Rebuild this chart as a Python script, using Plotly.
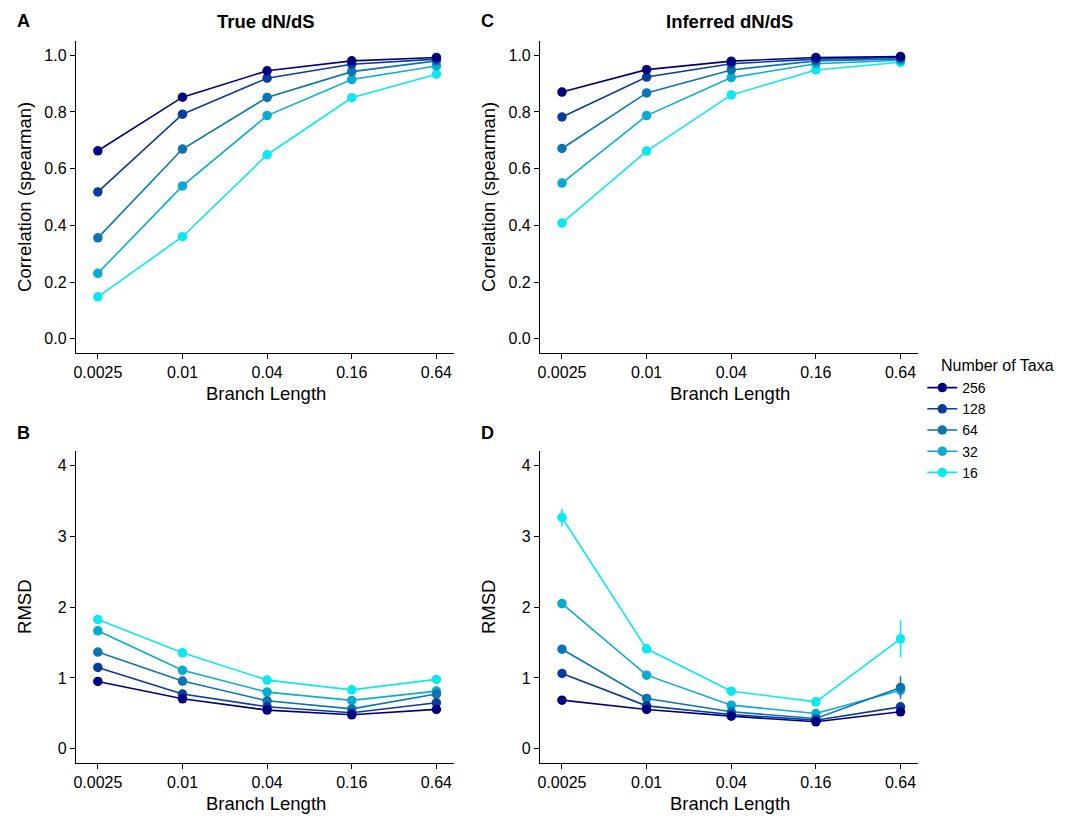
import plotly.graph_objects as go

branch = ["0.0025", "0.01", "0.04", "0.16", "0.64"]
taxa = ["256", "128", "64", "32", "16"]
colors = {"256": "#00007f", "128": "#0a3c9c", "64": "#0a74b4", "32": "#08acd0", "16": "#0ae8f0"}

# Panel A: correlation, true dN/dS
corr_true = {
    "256": [0.663, 0.852, 0.945, 0.980, 0.992],
    "128": [0.518, 0.792, 0.919, 0.968, 0.986],
    "64":  [0.356, 0.669, 0.851, 0.942, 0.980],
    "32":  [0.231, 0.539, 0.787, 0.914, 0.962],
    "16":  [0.148, 0.360, 0.649, 0.850, 0.933],
}
# Panel C: correlation, inferred dN/dS
corr_inf = {
    "256": [0.870, 0.949, 0.979, 0.992, 0.995],
    "128": [0.782, 0.923, 0.970, 0.986, 0.992],
    "64":  [0.671, 0.867, 0.948, 0.980, 0.987],
    "32":  [0.549, 0.787, 0.921, 0.970, 0.982],
    "16":  [0.408, 0.662, 0.860, 0.948, 0.975],
}
# Panel B: RMSD, true dN/dS
rmsd_true = {
    "256": [0.95, 0.705, 0.546, 0.48, 0.556],
    "128": [1.148, 0.772, 0.593, 0.508, 0.649],
    "64":  [1.364, 0.955, 0.677, 0.564, 0.772],
    "32":  [1.664, 1.107, 0.80, 0.683, 0.814],
    "16":  [1.824, 1.354, 0.969, 0.832, 0.979],
}
rmsd_true_err = {
    "256": [0.01, 0.01, 0.01, 0.01, 0.01],
    "128": [0.01, 0.01, 0.01, 0.01, 0.01],
    "64":  [0.02, 0.01, 0.01, 0.01, 0.01],
    "32":  [0.03, 0.02, 0.01, 0.01, 0.02],
    "16":  [0.03, 0.02, 0.01, 0.01, 0.02],
}
# Panel D: RMSD, inferred dN/dS
rmsd_inf = {
    "256": [0.686, 0.555, 0.461, 0.381, 0.522],
    "128": [1.062, 0.606, 0.484, 0.404, 0.592],
    "64":  [1.405, 0.710, 0.522, 0.428, 0.865],
    "32":  [2.049, 1.039, 0.616, 0.498, 0.827],
    "16":  [3.262, 1.410, 0.813, 0.663, 1.551],
}
rmsd_inf_err = {
    "256": [0.01, 0.01, 0.01, 0.01, 0.02],
    "128": [0.02, 0.01, 0.01, 0.01, 0.04],
    "64":  [0.03, 0.01, 0.01, 0.01, 0.16],
    "32":  [0.05, 0.02, 0.01, 0.01, 0.08],
    "16":  [0.12, 0.03, 0.02, 0.02, 0.26],
}

W, H = 1075, 816
FONT = "Liberation Sans, Arial, sans-serif"

def px_x(p):
    return p / W

def px_y(p):
    return 1 - p / H

fig = go.Figure()

panels = [
    ("x", "y", corr_true, None, True),
    ("x2", "y2", corr_inf, None, False),
    ("x3", "y3", rmsd_true, rmsd_true_err, False),
    ("x4", "y4", rmsd_inf, rmsd_inf_err, False),
]

for xa, ya, data, err, show in panels:
    for t in reversed(taxa):
        tr = dict(
            x=branch, y=data[t], xaxis=xa, yaxis=ya, name=t,
            mode="lines+markers",
            line=dict(color=colors[t], width=1.6),
            marker=dict(color=colors[t], size=9.5),
            showlegend=show,
        )
        if err is not None:
            tr["error_y"] = dict(type="data", array=err[t], width=0, thickness=1.6, color=colors[t])
        fig.add_trace(go.Scatter(**tr))

xdom_L = [px_x(74), px_x(453)]
xdom_R = [px_x(539), px_x(918)]
ydom_T = [px_y(353), px_y(41)]
ydom_B = [px_y(763), px_y(451)]

axis_common = dict(
    showline=True, linecolor="black", linewidth=1.1,
    ticks="outside", ticklen=5, tickwidth=1.1, tickcolor="black",
    showgrid=False, zeroline=False,
    tickfont=dict(family=FONT, size=16, color="black"),
)

def xaxis(dom, anchor):
    return dict(domain=dom, anchor=anchor, type="category",
                range=[-0.26, 4.21], **axis_common)

corr_ticks = [0, 0.2, 0.4, 0.6, 0.8, 1.0]
corr_text = ["0.0", "0.2", "0.4", "0.6", "0.8", "1.0"]
rmsd_ticks = [0, 1, 2, 3, 4]

fig.update_layout(
    width=W, height=H,
    margin=dict(l=0, r=0, t=0, b=0),
    paper_bgcolor="white", plot_bgcolor="white",
    font=dict(family=FONT, size=14, color="black"),
    xaxis=xaxis(xdom_L, "y"),
    xaxis2=xaxis(xdom_R, "y2"),
    xaxis3=xaxis(xdom_L, "y3"),
    xaxis4=xaxis(xdom_R, "y4"),
    yaxis=dict(domain=ydom_T, anchor="x", range=[-0.05, 1.05],
               tickvals=corr_ticks, ticktext=corr_text, **axis_common),
    yaxis2=dict(domain=ydom_T, anchor="x2", range=[-0.05, 1.05],
                tickvals=corr_ticks, ticktext=corr_text, **axis_common),
    yaxis3=dict(domain=ydom_B, anchor="x3", range=[-0.2, 4.2],
                tickvals=rmsd_ticks, **axis_common),
    yaxis4=dict(domain=ydom_B, anchor="x4", range=[-0.2, 4.2],
                tickvals=rmsd_ticks, **axis_common),
    legend=dict(
        x=px_x(922), y=px_y(372), xanchor="left", yanchor="top",
        traceorder="reversed",
        font=dict(family=FONT, size=14),
        itemwidth=30, tracegroupgap=0,
        bgcolor="rgba(0,0,0,0)",
    ),
)

ann = []
def add_text(text, x, y, size=16, bold=False, angle=0, xanchor="center"):
    ann.append(dict(
        text=("<b>%s</b>" % text) if bold else text,
        x=px_x(x), y=px_y(y), xref="paper", yref="paper",
        showarrow=False, textangle=angle, xanchor=xanchor, yanchor="middle",
        font=dict(family=FONT, size=size, color="black"),
    ))

# legend title
add_text("Number of Taxa", 939, 365, 16, xanchor="left")
# panel letters
add_text("A", 13, 21, 18, True, xanchor="left")
add_text("C", 478, 21, 18, True, xanchor="left")
add_text("B", 13, 433, 18, True, xanchor="left")
add_text("D", 478, 433, 18, True, xanchor="left")
# panel titles
add_text("True dN/dS", 264, 21, 18.5, True)
add_text("Inferred dN/dS", 729, 21, 18.5, True)
# axis titles
add_text("Branch Length", 264, 393, 18.5)
add_text("Branch Length", 729, 393, 18.5)
add_text("Branch Length", 264, 803, 18.5)
add_text("Branch Length", 729, 803, 18.5)
add_text("Correlation (spearman)", 22, 197, 18.5, angle=-90)
add_text("Correlation (spearman)", 487, 197, 18.5, angle=-90)
add_text("RMSD", 22, 607, 18.5, angle=-90)
add_text("RMSD", 487, 607, 18.5, angle=-90)

fig.update_layout(annotations=ann)

fig.write_html("out.html")
